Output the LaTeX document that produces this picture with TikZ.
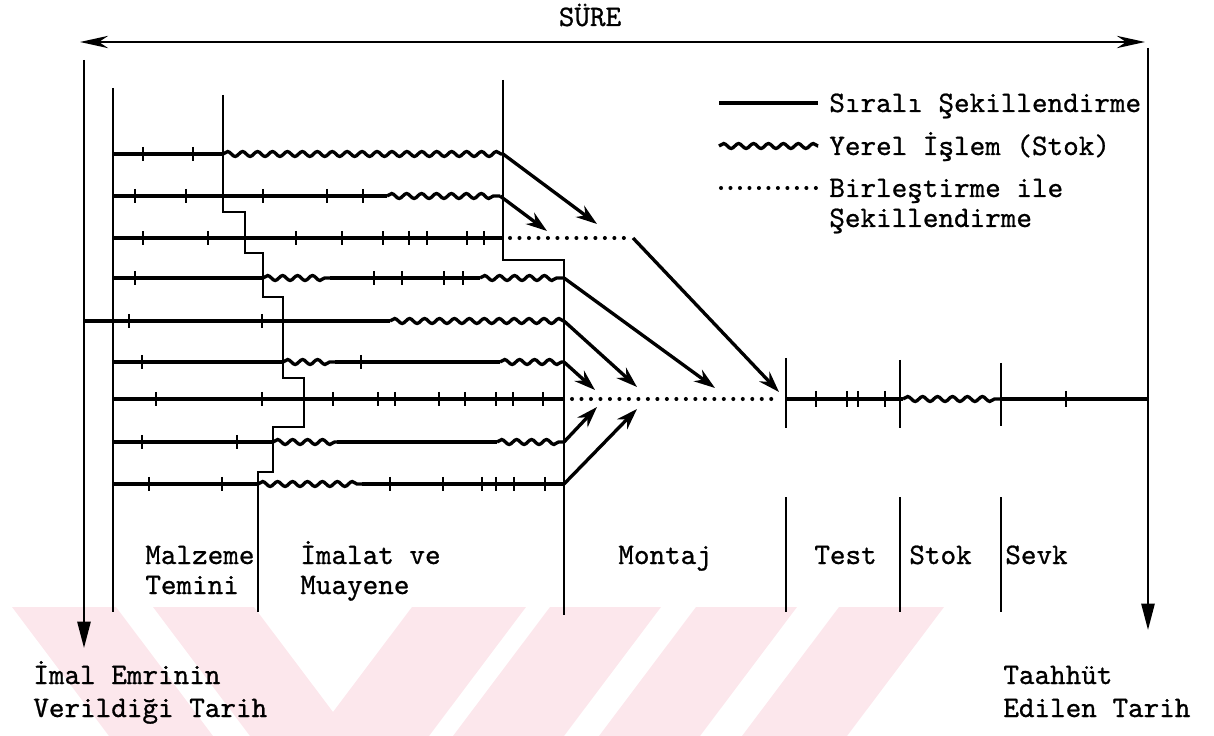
\documentclass[tikz,border=0pt]{standalone}
\usepackage{fontspec}
\newfontfamily\tw{lmmono10-regular.otf}[FakeBold=0.8]
\usetikzlibrary{arrows.meta,decorations.pathmorphing}
\definecolor{wm}{RGB}{252,231,236}
\tikzset{
  rowline/.style={line width=2.1pt},
  vline/.style={line width=1.2pt},
  tickmark/.style={line width=1.1pt},
  wavy/.style={line width=1.9pt, decorate, decoration={snake, segment length=8.5pt, amplitude=1.4pt}},
  dots/.style={line width=2.3pt, line cap=round, dash pattern=on 0pt off 5.4pt},
  flow/.style={line width=1.9pt, -{Stealth[length=12pt,width=8pt]}},
  downarrow/.style={line width=1.2pt, -{Triangle[length=15pt,width=7.5pt]}},
  lbl/.style={font=\tw\fontsize{16.9}{18}\selectfont, inner sep=0pt, anchor=base west},
}
\begin{document}
\begin{tikzpicture}[x=0.02cm,y=-0.02cm]
\useasboundingbox (0,0) rectangle (1214,736);
% watermark
\fill[wm] (12,607) -- (116,607) -- (213,736) -- (109,736) -- cycle;
\fill[wm] (153,607) -- (254,607) -- (333,712) -- (412,607) -- (526,607) -- (429,736) -- (250,736) -- cycle;
\fill[wm] (550,607) -- (661,607) -- (564,736) -- (453,736) -- cycle;
\fill[wm] (696,607) -- (797,607) -- (700,736) -- (599,736) -- cycle;
\fill[wm] (839,607) -- (944,607) -- (847,736) -- (742,736) -- cycle;

% time arrow
\node[lbl, anchor=base] (sure) at (590,26) {SÜRE};
\coordinate (tl) at (80,42);
\coordinate (tr) at (1145,42);
\draw[line width=1.3pt, {Stealth[length=16pt,width=7pt]}-{Stealth[length=16pt,width=7pt]}] (tl) -- (tr);

% long verticals with arrows
\coordinate (v0t) at (84,60);
\coordinate (v0b) at (84,648);
\draw[downarrow] (v0t) -- (v0b);
\coordinate (vet) at (1148,48);
\coordinate (veb) at (1148,630);
\draw[downarrow] (vet) -- (veb);

% phase lines
\draw[vline] (113,88) -- (113,612);
\draw[vline] (223,95) -- (223,212) -- (245,212) -- (245,253) -- (263,253) -- (263,297)
  -- (283,297) -- (283,378) -- (304,378) -- (304,427) -- (273,427) -- (273,472)
  -- (258,472) -- (258,612);
\draw[vline] (503,80) -- (503,260) -- (564,260) -- (564,615);
\foreach \x in {786,900,1001} \draw[vline] (\x,497) -- (\x,612);
\draw[vline] (786,358) -- (786,428);
\draw[vline] (900,360) -- (900,428);
\draw[vline] (1001,363) -- (1001,426);

% row 1
\draw[rowline] (113,154) -- (223,154);
\draw[wavy] (223,154) -- (503,154);
\foreach \x in {143,193} \draw[tickmark] (\x,147) -- (\x,161);
% row 2
\draw[rowline] (113,196) -- (387,196);
\draw[wavy] (387,196) -- (500,196);
\foreach \x in {135,186,263,327,363} \draw[tickmark] (\x,189) -- (\x,203);
% row 3
\draw[rowline] (113,238) -- (503,238);
\draw[dots] (510,238) -- (630,238);
\foreach \x in {143,208,296,342,383,409,427,467,484} \draw[tickmark] (\x,231) -- (\x,245);
% row 4
\draw[rowline] (113,278) -- (263,278);
\draw[wavy] (263,278) -- (330,278);
\draw[rowline] (330,278) -- (480,278);
\draw[wavy] (480,278) -- (564,278);
\foreach \x in {135,374,402,444,463} \draw[tickmark] (\x,271) -- (\x,285);
% row 5
\draw[rowline] (84,321) -- (390,321);
\draw[wavy] (390,321) -- (564,321);
\foreach \x in {129,262} \draw[tickmark] (\x,314) -- (\x,328);
% row 6
\draw[rowline] (113,362) -- (283,362);
\draw[wavy] (283,362) -- (335,362);
\draw[rowline] (335,362) -- (500,362);
\draw[wavy] (500,362) -- (564,362);
\foreach \x in {142,361} \draw[tickmark] (\x,355) -- (\x,369);
% row 7 (main line)
\draw[rowline] (113,399) -- (564,399);
\foreach \x in {156,262,333,378,395,439,465,496,513,543} \draw[tickmark] (\x,392) -- (\x,406);
\draw[dots] (572,399) -- (779,399);
\draw[rowline] (786,399) -- (903,399);
\draw[wavy] (903,399) -- (1001,399);
\draw[rowline] (1001,399) -- (1148,399);
\foreach \x in {816,847,858,885,1066} \draw[tickmark] (\x,391) -- (\x,407);
% row 8
\draw[rowline] (113,442) -- (273,442);
\draw[wavy] (273,442) -- (337,442);
\draw[rowline] (337,442) -- (497,442);
\draw[wavy] (497,442) -- (564,442);
\foreach \x in {142,237} \draw[tickmark] (\x,435) -- (\x,449);
% row 9
\draw[rowline] (113,484) -- (258,484);
\draw[wavy] (258,484) -- (362,484);
\draw[rowline] (362,484) -- (564,484);
\foreach \x in {149,222,390,443,482,496,514,545} \draw[tickmark] (\x,477) -- (\x,491);

% flow arrows
\coordinate (a1s) at (503,154); \coordinate (a1e) at (597,224);
\coordinate (a2s) at (500,196); \coordinate (a2e) at (547,231);
\coordinate (a3s) at (633,238); \coordinate (a3e) at (779,392);
\coordinate (a4s) at (564,278); \coordinate (a4e) at (715,388);
\coordinate (a5s) at (564,321); \coordinate (a5e) at (637,387);
\coordinate (a6s) at (564,362); \coordinate (a6e) at (595,390);
\coordinate (a8s) at (564,442); \coordinate (a8e) at (597,407);
\coordinate (a9s) at (564,484); \coordinate (a9e) at (637,409);
\foreach \n in {1,2,3,4,5,6,8,9} \draw[flow] (a\n s) -- (a\n e);

% legend
\coordinate (l1a) at (719,103); \coordinate (l1b) at (818,103);
\draw[rowline] (l1a) -- (l1b);
\node[lbl] (leg1) at (829,112) {Sıralı Şekillendirme};
\coordinate (l2a) at (719,146); \coordinate (l2b) at (818,146);
\draw[wavy] (l2a) -- (l2b);
\node[lbl] (leg2) at (829,155) {Yerel İşlem (Stok)};
\coordinate (l3a) at (721,188); \coordinate (l3b) at (816,188);
\draw[dots] (l3a) -- (l3b);
\node[lbl] (leg3) at (829,197) {Birleştirme ile};
\node[lbl] (leg4) at (829,227) {Şekillendirme};

% phase labels
\node[lbl] (p1a) at (145,564) {Malzeme};
\node[lbl] (p1b) at (145,594) {Temini};
\node[lbl] (p2a) at (300,564) {İmalat ve};
\node[lbl] (p2b) at (300,594) {Muayene};
\node[lbl] (p3) at (618,564) {Montaj};
\node[lbl] (p4) at (814,564) {Test};
\node[lbl] (p5) at (909,564) {Stok};
\node[lbl] (p6) at (1005,564) {Sevk};

% date labels
\node[lbl] (d1a) at (33,684) {İmal Emrinin};
\node[lbl] (d1b) at (33,717) {Verildiği Tarih};
\node[lbl] (d2a) at (1003,684) {Taahhüt};
\node[lbl] (d2b) at (1003,717) {Edilen Tarih};
\end{tikzpicture}
\end{document}
